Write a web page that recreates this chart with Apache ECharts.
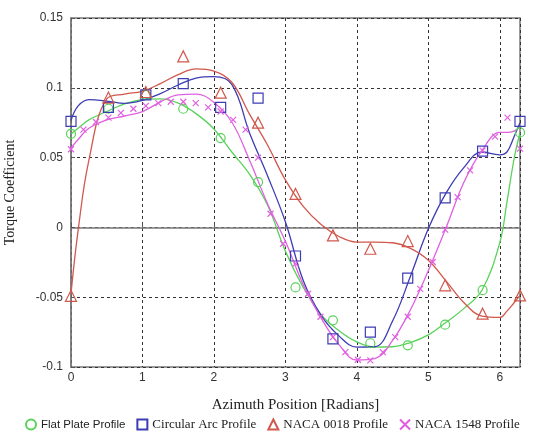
<!DOCTYPE html>
<html>
<head>
<meta charset="utf-8">
<script src="https://cdn.jsdelivr.net/npm/echarts@6/dist/echarts.min.js"></script>
<style>
  html, body { margin: 0; padding: 0; background: #fff; }
  #chart { width: 543px; height: 434px; }
</style>
</head>
<body>
<div id="chart"></div>
<script>
// azimuth positions of the measured points (every 30 deg)
const PI = Math.PI;
const pointX = [0, PI/6, PI/3, PI/2, 2*PI/3, 5*PI/6, PI, 7*PI/6, 4*PI/3, 3*PI/2, 5*PI/3, 11*PI/6, 2*PI];
const flatPts   = [0.067, 0.085, 0.095, 0.085, 0.064, 0.0325, -0.043, -0.0666, -0.083, -0.0845, -0.0697, -0.045, 0.068];
const arcPts    = [0.076, 0.086, 0.095, 0.103, 0.086, 0.0926, -0.0205, -0.0798, -0.075, -0.0363, 0.0212, 0.0547, 0.076];
const naca18Pts = [-0.049, 0.093, 0.097, 0.1225, 0.0965, 0.075, 0.024, -0.0057, -0.0153, -0.0098, -0.0415, -0.0618, -0.0487];
// NACA 1548 is sampled every 10 deg
const naca1548Pts = [0.056, 0.070, 0.0755, 0.0786, 0.082, 0.085, 0.087, 0.089, 0.090, 0.090, 0.089, 0.086, 0.083,
  0.077, 0.070, 0.050, 0.0098, -0.0117, -0.026, -0.0475, -0.064, -0.0786, -0.0893, -0.0948, -0.0953,
  -0.0893, -0.0786, -0.064, -0.044, -0.0248, -0.0016, 0.0217, 0.0408, 0.055, 0.065, 0.0786, 0.0564];

// fitted curves
const fitX = [0, 0.1, 0.25, 0.5, 0.75, 1, 1.25, 1.5, 1.75, 2, 2.25, 2.5, 2.75, 3, 3.25, 3.5, 3.75, 4,
  4.25, 4.5, 4.75, 5, 5.25, 5.5, 5.75, 6, 6.1, 6.2, 2*PI];
const flatFit = [0.067, 0.071, 0.077, 0.083, 0.0885, 0.0915, 0.092, 0.089, 0.0815, 0.0705, 0.054, 0.038, 0.016,
  -0.017, -0.043, -0.0625, -0.074, -0.082, -0.0857, -0.0855, -0.0825, -0.077, -0.068, -0.058, -0.045,
  -0.011, 0.018, 0.049, 0.068];
const arcFit = [0.0766, 0.087, 0.0915, 0.0905, 0.0888, 0.091, 0.0958, 0.102, 0.107, 0.108, 0.1025, 0.0675, 0.037,
  0.004, -0.038, -0.063, -0.0777, -0.0857, -0.0855, -0.067, -0.035, -0.001, 0.0247, 0.043, 0.054,
  0.052, 0.054, 0.065, 0.075];
const naca18Fit = [-0.0475, -0.002, 0.048, 0.092, 0.0955, 0.0975, 0.103, 0.1095, 0.1135, 0.112, 0.104, 0.081, 0.059,
  0.034, 0.015, 0.002, -0.0065, -0.0105, -0.0105, -0.011, -0.015, -0.0235, -0.0385, -0.054, -0.0635,
  -0.0645, -0.060, -0.054, -0.0487];
const naca1548Fit = [0.057, 0.063, 0.071, 0.077, 0.0798, 0.083, 0.0898, 0.095, 0.0955, 0.0895, 0.0755, 0.048, 0.017,
  -0.010, -0.041, -0.065, -0.084, -0.095, -0.094, -0.081, -0.059, -0.031, 0.000, 0.0325, 0.055,
  0.068, 0.068, 0.069, 0.072];

const yTicks = [-0.1, -0.05, 0, 0.05, 0.1, 0.15];
const names = ['Flat Plate Profile', 'Circular Arc Profile', 'NACA 0018 Profile', 'NACA 1548 Profile'];
const colors = ['#5ad25a', '#3c3cb4', '#d0584c', '#e060e0'];

const zip = (xs, ys) => ys.map((y, i) => [xs[i], y]);
const xs1548 = naca1548Pts.map((v, i) => i * PI / 18);
const crossPath = 'path://M0,0L10,10M10,0L0,10';

const chart = echarts.init(document.getElementById('chart'));

function pts(name, data, symbol, size, color) {
  return {
    name: name, type: 'scatter', data: data, symbol: symbol, symbolSize: size, z: 3,
    itemStyle: { color: 'transparent', borderColor: color, borderWidth: 1.2, opacity: 1 }
  };
}
function fit(name, data, color) {
  return {
    name: name + ' fit', type: 'line', data: data, smooth: 0.4, showSymbol: false,
    lineStyle: { color: color, width: 1.3 }, z: 2
  };
}

chart.setOption({
  animation: false,
  grid: {
    left: 71, right: 23, top: 18, bottom: 67, outerBoundsMode: 'none',
    show: true, borderColor: '#7a7a7a', borderWidth: 1.5
  },
  legend: {
    data: names, left: 20, top: 413, itemWidth: 10, itemHeight: 10, itemGap: 11,
    formatter: n => n === names[0] ? '{s|' + n + '}' : '{t|' + n + '}',
    textStyle: {
      color: '#222',
      rich: {
        s: { fontFamily: 'Liberation Sans', fontSize: 11.5, color: '#222' },
        t: { fontFamily: 'Liberation Serif', fontSize: 13, color: '#222' }
      }
    }
  },
  xAxis: {
    type: 'value', min: 0, max: 2 * PI, interval: 1,
    name: 'Azimuth Position [Radians]', nameLocation: 'middle', nameGap: 31,
    nameTextStyle: { fontFamily: 'Liberation Serif', fontSize: 15, color: '#222' },
    axisLine: { show: true, lineStyle: { color: '#7a7a7a', width: 1.5 } },
    axisTick: { show: true, inside: true, length: 4, lineStyle: { color: '#555' } },
    axisLabel: { showMaxLabel: false, margin: 5, fontFamily: 'Liberation Sans', fontSize: 12, color: '#333' },
    splitLine: { show: true, lineStyle: { color: '#333', type: [3, 3], width: 1 } }
  },
  yAxis: {
    type: 'value', min: yTicks[0], max: yTicks[yTicks.length - 1], interval: 0.05,
    name: 'Torque Coefficient', nameLocation: 'middle', nameGap: 54,
    nameTextStyle: { fontFamily: 'Liberation Serif', fontSize: 14, color: '#222' },
    axisLine: { show: true, lineStyle: { color: '#7a7a7a', width: 1.5 } },
    axisTick: { show: true, inside: true, length: 4, lineStyle: { color: '#555' } },
    axisLabel: {
      margin: 8, fontFamily: 'Liberation Sans', fontSize: 12, color: '#333',
      formatter: v => String(+v.toFixed(2))
    },
    splitLine: { show: true, lineStyle: { color: '#333', type: [3, 3], width: 1 } }
  },
  series: [
    pts(names[0], zip(pointX, flatPts), 'circle', 9, colors[0]),
    pts(names[1], zip(pointX, arcPts), 'rect', 10, colors[1]),
    pts(names[2], zip(pointX, naca18Pts), 'triangle', 11, colors[2]),
    pts(names[3], zip(xs1548, naca1548Pts), crossPath, 6, colors[3]),
    fit(names[0], zip(fitX, flatFit), colors[0]),
    fit(names[1], zip(fitX, arcFit), colors[1]),
    fit(names[2], zip(fitX, naca18Fit), colors[2]),
    fit(names[3], zip(fitX, naca1548Fit), colors[3])
  ]
});
</script>
</body>
</html>
